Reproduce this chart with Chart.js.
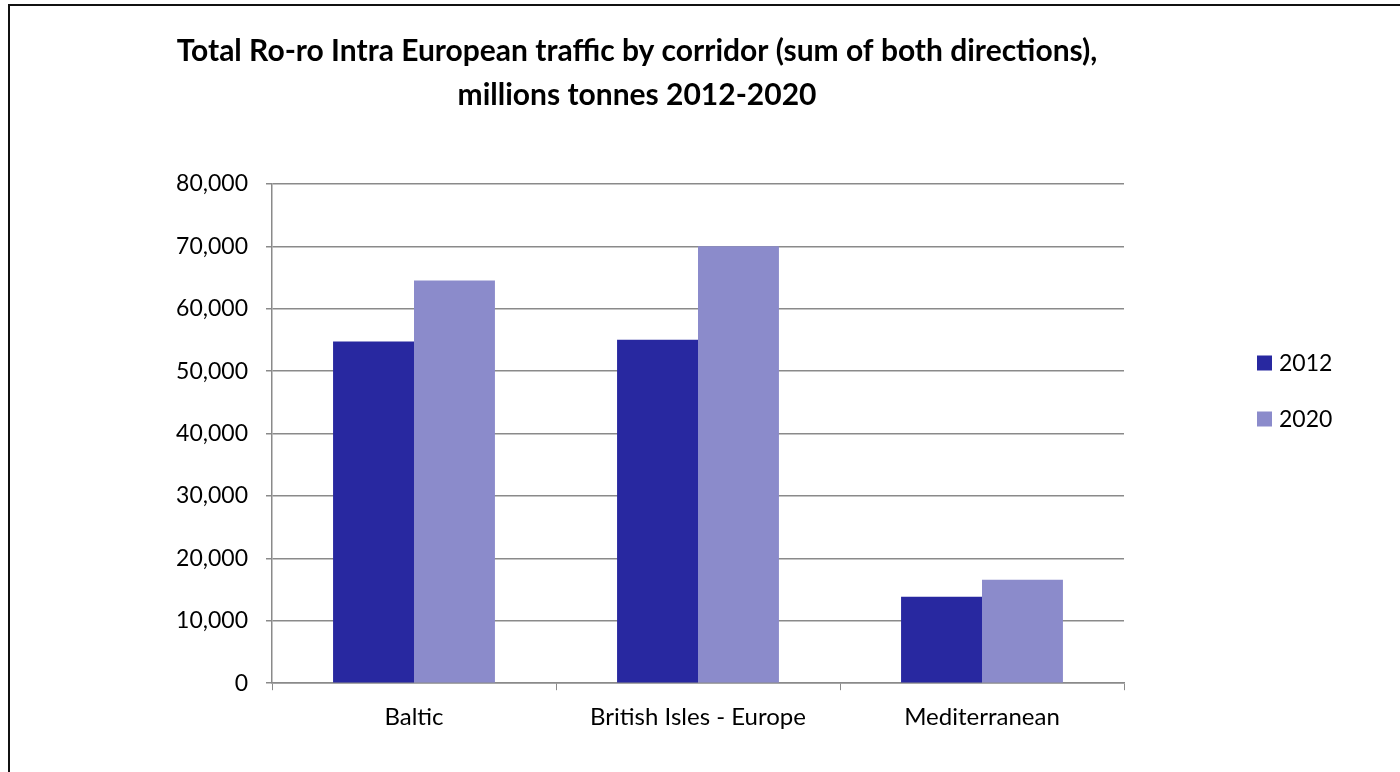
<!DOCTYPE html>
<html>
<head>
<meta charset="utf-8">
<script src="https://cdn.jsdelivr.net/npm/chart.js@4.4.0/dist/chart.umd.min.js"></script>
<style>
    html, body { margin: 0; padding: 0; background: #fff; }
    #wrap { position: relative; width: 1400px; height: 772px; overflow: hidden; }
    #frame { position: absolute; left: 8px; top: 4px; width: 1420px; height: 800px; border: 2px solid #111; box-sizing: border-box; pointer-events: none; }
    canvas { position: absolute; left: 0; top: 0; }
</style>
</head>
<body>
<div id="wrap">
    <canvas id="chart-roro" width="1400" height="772"></canvas>
    <div id="frame"></div>
</div>
<script>
// Ro-ro corridor chart
const corridors = ['Baltic', 'British Isles - Europe', 'Mediterranean'];
const values2012 = [54760, 55030, 13870];
const values2020 = [64520, 70030, 16560];
const seriesLabels = ['2012', '2020'];
const seriesColors = ['#2828A0', '#8B8BCB'];
const titleLines = [
    'Total Ro-ro Intra European traffic by corridor (sum of both directions),',
    'millions tonnes 2012-2020',
];

const FONT = 'Lato, Calibri, "Open Sans", sans-serif';
const gridColor = '#8a8a8a';

// legend drawn by hand so it sits apart from the plot, like the Excel original
const sideLegend = {
    id: 'sideLegend',
    afterDraw(chart) {
        const { ctx: c, chartArea } = chart;
        const x = chartArea.right + 133;
        const midY = chart.height / 2 + 5;
        c.save();
        c.font = `23px ${FONT}`;
        c.textBaseline = 'middle';
        c.textAlign = 'left';
        chart.data.datasets.forEach((ds, i) => {
            const cy = midY + (i - 0.5) * 56;
            c.fillStyle = ds.backgroundColor;
            c.fillRect(x, cy - 7.5, 15, 15);
            c.fillStyle = '#000';
            c.fillText(ds.label, x + 22, cy + 1);
        });
        c.restore();
    },
};

const ctx = document.getElementById('chart-roro').getContext('2d');
new Chart(ctx, {
    type: 'bar',
    data: {
        labels: corridors,
        datasets: [
            { label: seriesLabels[0], data: values2012, backgroundColor: seriesColors[0] },
            { label: seriesLabels[1], data: values2020, backgroundColor: seriesColors[1] },
        ],
    },
    plugins: [sideLegend],
    options: {
        responsive: false,
        animation: false,
        // left padding is wide so the title centres where Excel put it;
        // the y scale is narrowed to match and its labels hang to the left
        layout: { padding: { top: 0, right: 276, bottom: 27, left: 150 } },
        datasets: { bar: { categoryPercentage: 0.57, barPercentage: 1 } },
        plugins: {
            legend: { display: false },
            tooltip: { enabled: false },
            title: {
                display: true,
                text: titleLines,
                color: '#000',
                font: { family: FONT, size: 30, weight: 'bold', lineHeight: 1.45 },
                padding: { top: 30, bottom: 67 },
            },
        },
        scales: {
            x: {
                grid: { display: true, drawOnChartArea: false, drawTicks: true, tickLength: 7, color: gridColor, offset: true },
                border: { color: gridColor, width: 1.5 },
                ticks: { color: '#000', font: { family: FONT, size: 24 }, padding: 13 },
            },
            y: {
                min: 0,
                max: 80000,
                afterFit: s => { s.width = 122; },
                grid: { color: gridColor, lineWidth: 1.5, tickLength: 6 },
                border: { color: gridColor, width: 1.5 },
                ticks: {
                    stepSize: 10000,
                    color: '#000',
                    padding: 18,
                    font: { family: FONT, size: 23 },
                    callback: v => v.toLocaleString('en-US'),
                },
            },
        },
    },
});
</script>
</body>
</html>
